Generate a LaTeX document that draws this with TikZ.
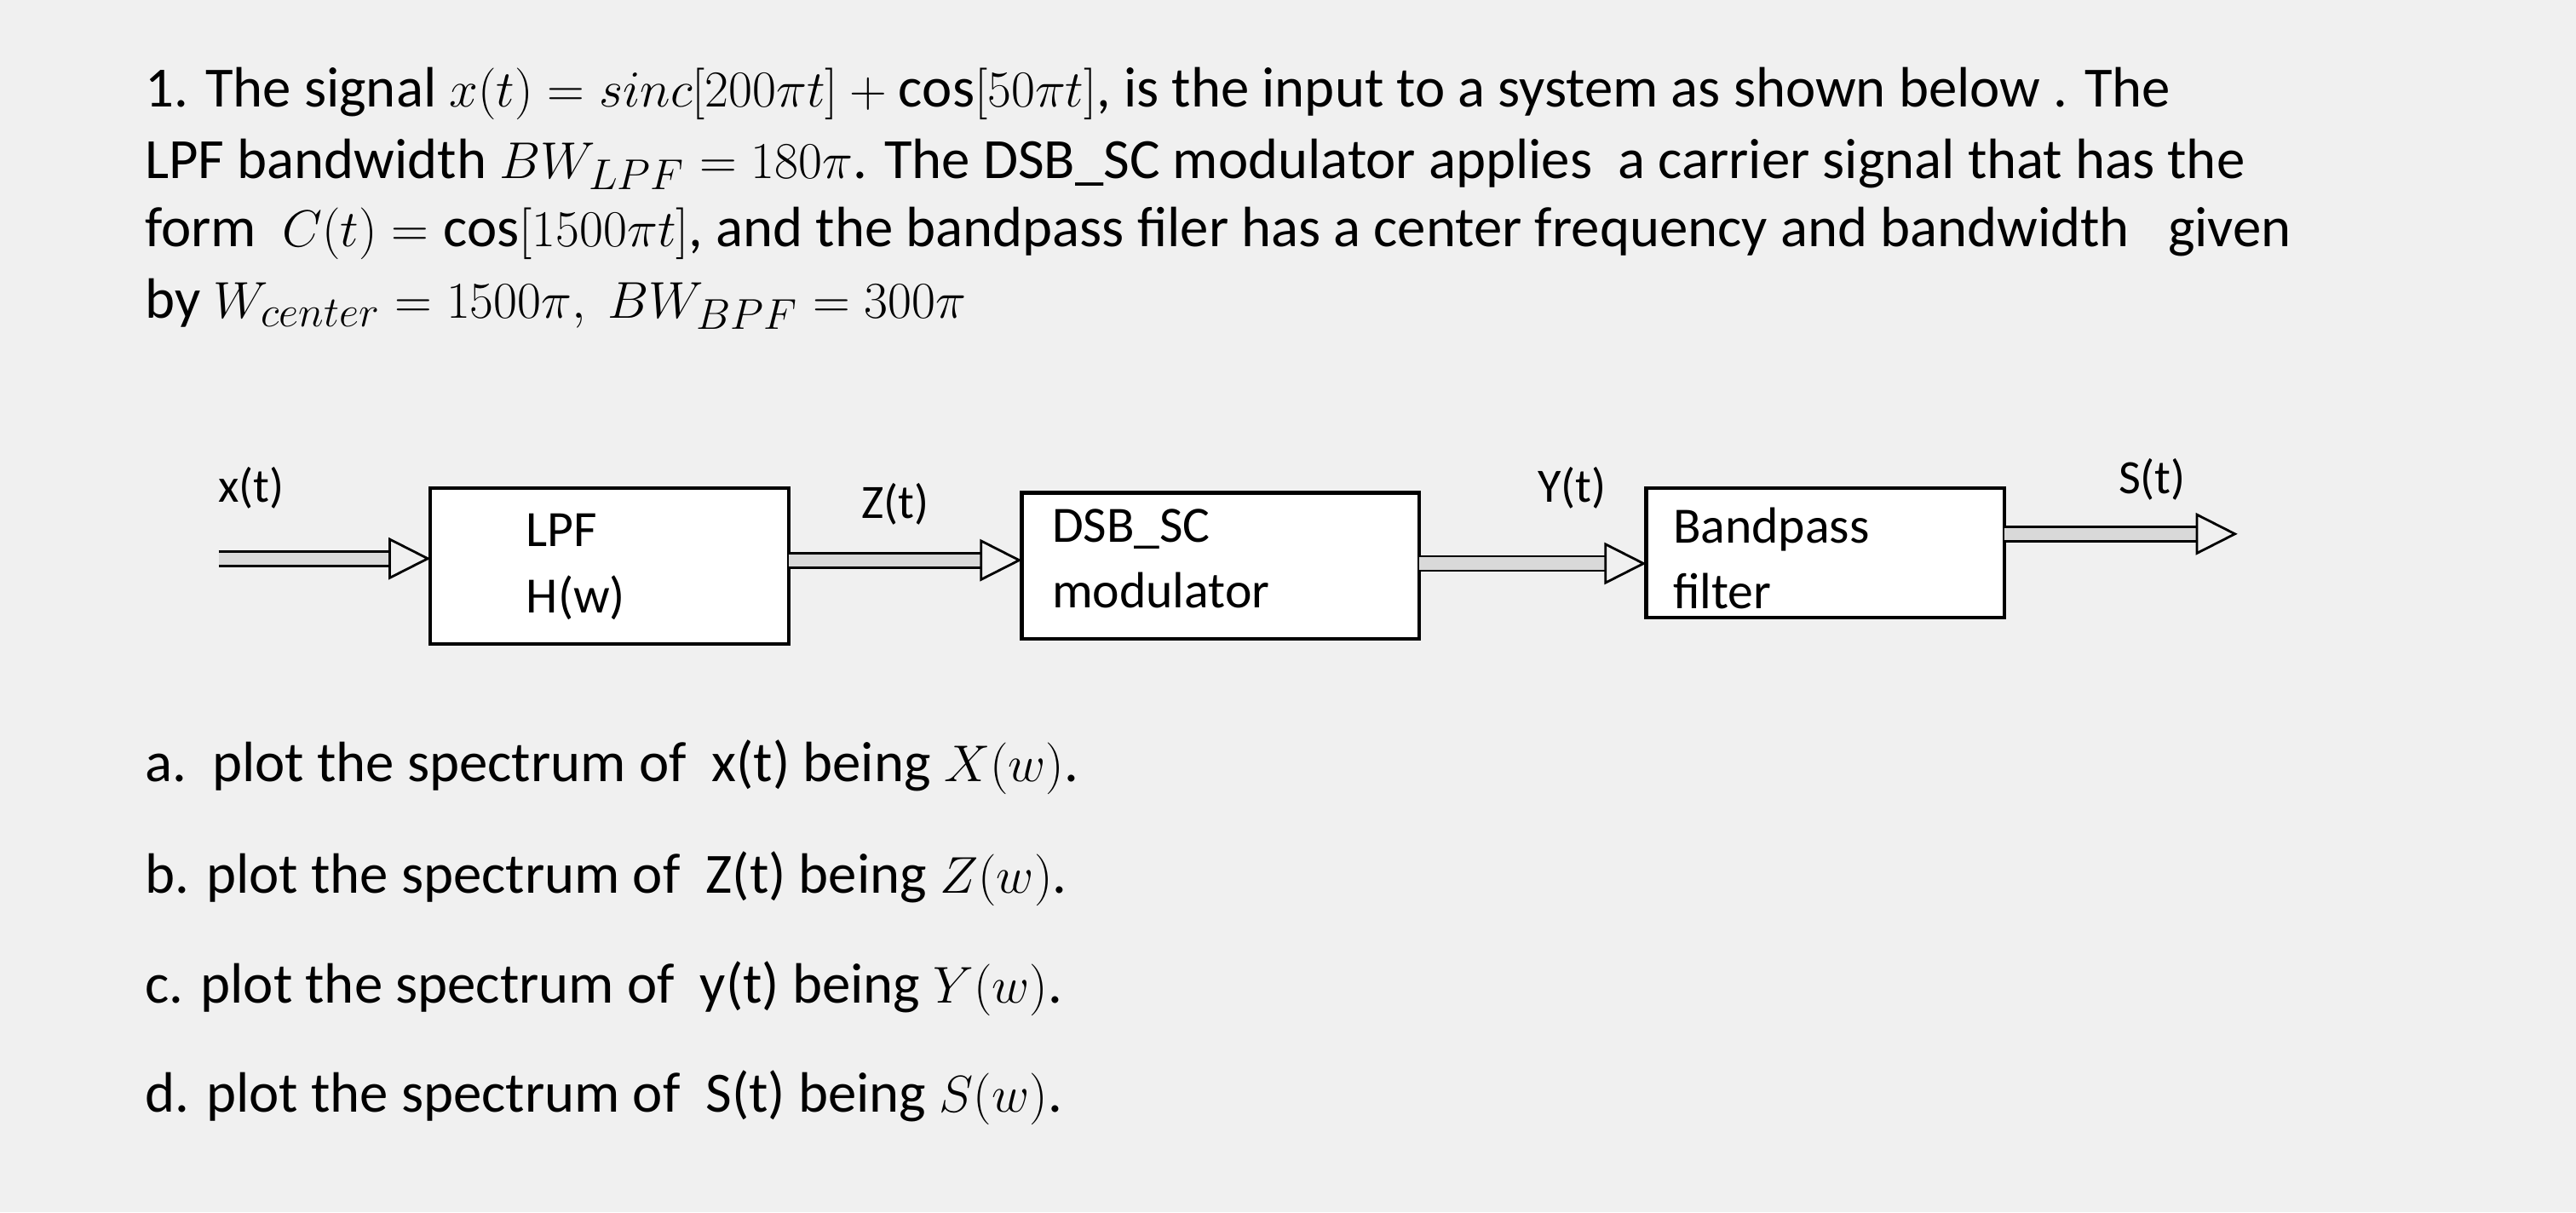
\documentclass[tikz,border=0pt]{standalone}
\usepackage{fontspec}
\setmainfont{Carlito}
\usetikzlibrary{arrows.meta}
\begin{document}
\begin{tikzpicture}[x=0.01929cm,y=-0.01929cm,
  txt/.style={anchor=west,inner sep=0,font=\fontsize{19}{23}\selectfont},
  blk/.style={draw,line width=1.2pt,fill=white,anchor=north west,inner sep=0},
  lbl/.style={inner sep=0,font=\fontsize{16}{19}\selectfont},
  btxt/.style={anchor=west,inner sep=0,font=\fontsize{17}{20}\selectfont,align=left},
  sig/.style={double=gray!30,double distance=4pt,line width=0.8pt,-{Triangle[open,length=14pt,width=14pt]}}]
\useasboundingbox[fill=gray!12] (0,0) rectangle (1568,738);
\node[txt] (l1) at (88,57) {1. The signal $x(t)=sinc[200\pi t]+\cos[50\pi t]$, is the input to a system as shown below . The};
\node[txt] (l2) at (88,100) {LPF bandwidth $BW_{LPF}=180\pi$. The DSB\_SC modulator applies\ \ a carrier signal that has the};
\node[txt] (l3) at (88,142) {form\ \ $C(t)=\cos[1500\pi t]$, and the bandpass filer has a center frequency and bandwidth\ \ \ given};
\node[txt] (l4) at (88,185) {by $W_{center}=1500\pi,\ BW_{BPF}=300\pi$};
\path (262,297) coordinate (a1) (480,392) coordinate (a2);
\draw[line width=1.2pt,fill=white] (262,297) rectangle (480,392);
\draw[line width=1.2pt,fill=white] (622,300) rectangle (864,389);
\draw[line width=1.2pt,fill=white] (1002,297) rectangle (1220,376);
\coordinate (in) at (133,340);
\coordinate (lpfW) at (262,340); \coordinate (lpfE) at (480,341);
\coordinate (dsbW) at (622,341); \coordinate (dsbE) at (864,343);
\coordinate (bpW) at (1002,343); \coordinate (bpE) at (1220,325);
\coordinate (out) at (1362,325);
\draw[sig] (in) -- (lpfW);
\draw[sig] (lpfE) -- (dsbW);
\draw[sig] (dsbE) -- (bpW);
\draw[sig] (bpE) -- (out);
\node[btxt] (lpf) at (320,345) {LPF\\[2pt]H(w)};
\node[btxt] (dsb) at (640,340) {DSB\_SC\\[2pt]modulator};
\node[btxt] (bp) at (1018,340) {Bandpass\\[2pt]filter};
\node[lbl] (xt) at (153,297) {x(t)};
\node[lbl] (zt) at (545,307) {Z(t)};
\node[lbl] (yt) at (957,297) {Y(t)};
\node[lbl] (st) at (1310,292) {S(t)};
\node[txt] (qa) at (88,467) {a.\ \ plot the spectrum of\ \ x(t) being $X(w)$.};
\node[txt] (qb) at (88,535) {b. plot the spectrum of\ \ Z(t) being $Z(w)$.};
\node[txt] (qc) at (88,602) {c. plot the spectrum of\ \ y(t) being $Y(w)$.};
\node[txt] (qd) at (88,668) {d. plot the spectrum of\ \ S(t) being $S(w)$.};
\end{tikzpicture}
\end{document}
